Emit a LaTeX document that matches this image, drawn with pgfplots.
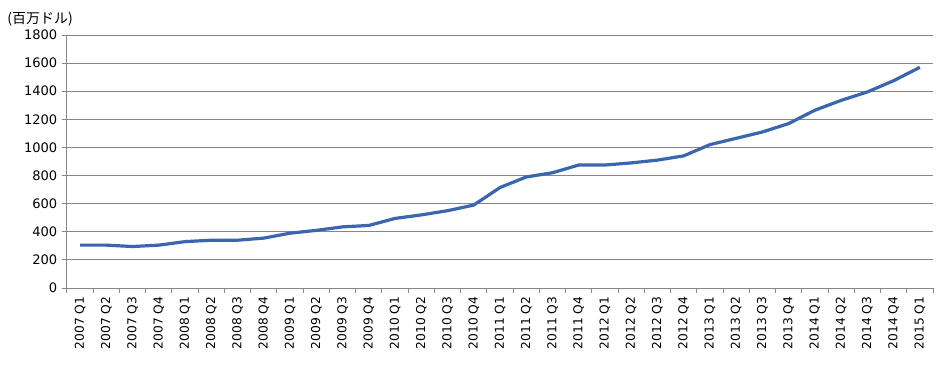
\documentclass[border=0pt]{standalone}
\usepackage{pgfplots}
\pgfplotsset{compat=1.18}
\usepackage{fontspec}
\setmainfont{DejaVu Sans}
\newfontfamily\jpfont{Noto Sans CJK JP}
\definecolor{linec}{RGB}{58,102,175}
\definecolor{gridc}{RGB}{134,134,134}
\begin{document}
\begin{tikzpicture}
\begin{axis}[
  at={(0,0)}, anchor=south west,
  scale only axis,
  width=649.5pt, height=189.75pt,
  xmin=-0.5, xmax=32.5,
  ymin=0, ymax=1800,
  ytick={0,200,...,1800},
  xtick={0,...,32},
  xticklabels={2007 Q1,2007 Q2,2007 Q3,2007 Q4,2008 Q1,2008 Q2,2008 Q3,2008 Q4,2009 Q1,2009 Q2,2009 Q3,2009 Q4,2010 Q1,2010 Q2,2010 Q3,2010 Q4,2011 Q1,2011 Q2,2011 Q3,2011 Q4,2012 Q1,2012 Q2,2012 Q3,2012 Q4,2013 Q1,2013 Q2,2013 Q3,2013 Q4,2014 Q1,2014 Q2,2014 Q3,2014 Q4,2015 Q1},
  minor xtick={-0.5,0.5,...,32.5},
  axis lines*=left,
  axis line style={gridc, line width=0.75pt},
  ymajorgrids,
  major grid style={gridc, line width=0.75pt},
  tick align=outside,
  major x tick style={draw=none},
  minor x tick style={gridc, line width=0.75pt},
  minor tick length=3.75pt,
  major y tick style={gridc, line width=0.75pt},
  major tick length=3.75pt,
  xticklabel style={rotate=90, anchor=east, font=\fontsize{9.2}{10}\selectfont, inner sep=2.5pt},
  yticklabel style={font=\fontsize{9.8}{10}\selectfont},
  /pgf/number format/assume math mode=true,
  /pgf/number format/1000 sep={},
  clip=false,
]
\addplot[linec, line width=2.4pt, line join=round] coordinates {
(0,305) (1,305) (2,295) (3,305) (4,330) (5,340) (6,340) (7,355)
(8,390) (9,410) (10,435) (11,445) (12,495) (13,520) (14,550) (15,590)
(16,715) (17,790) (18,820) (19,875) (20,875) (21,890) (22,910) (23,940)
(24,1020) (25,1065) (26,1110) (27,1170) (28,1265) (29,1335) (30,1395) (31,1475)
(32,1570)
};
\node[anchor=east, font=\jpfont\fontsize{10.5}{11}\selectfont, inner sep=0pt] at ([xshift=4.5pt, yshift=12pt]rel axis cs:0,1) {(百万ドル)};
\end{axis}
\pgfresetboundingbox
\path[use as bounding box] (-50.25pt,-57pt) rectangle (655.5pt,216pt);
\end{tikzpicture}
\end{document}
